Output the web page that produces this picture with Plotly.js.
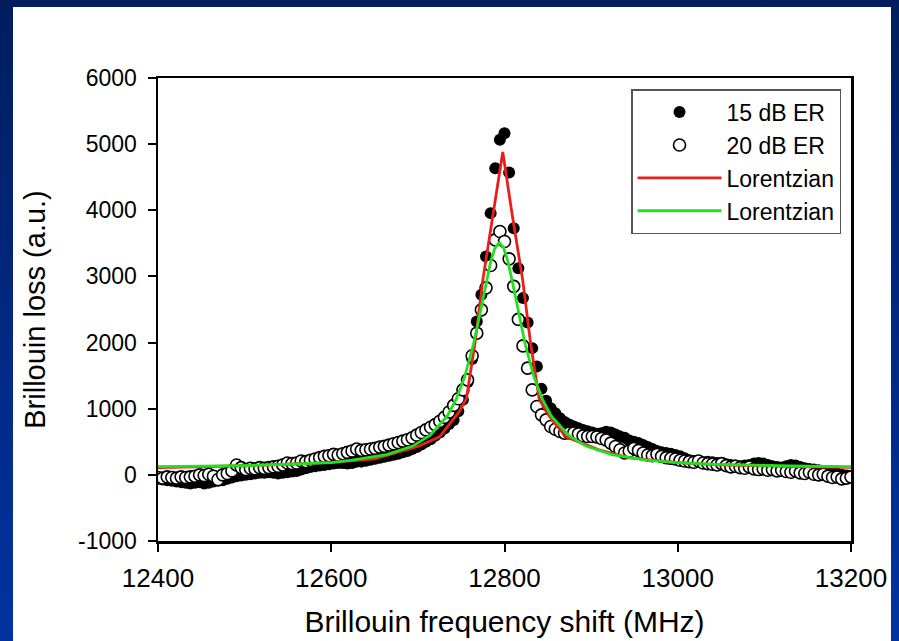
<!DOCTYPE html>
<html>
<head>
<meta charset="utf-8">
<script src="https://cdn.plot.ly/plotly-3.0.1.min.js"></script>
<style>
  html, body { margin: 0; padding: 0; width: 899px; height: 641px; overflow: hidden;
    background: linear-gradient(to bottom, #001e5e 0%, #002a88 60%, #0033a0 100%); }
  #chart { position: absolute; left: 13px; top: 7px; width: 878px; height: 634px; background: #fff; }
</style>
</head>
<body>
<div id="chart"></div>
<script>
// Sampling grid of the measured spectra (MHz)
const freqStart = 12400;
const freqStep = 5.3333;

// 15 dB ER measured Brillouin loss (a.u.)
const er15 = [
  -60, -70, -80, -90, -100, -110, -120, -130, -120, -110,
  -130, -120, -100, -90, -80, -60, -40, -20, -10, 0,
  10, 20, 30, 30, 40, 30, 20, 30, 40, 50,
  60, 80, 100, 120, 130, 140, 150, 160, 170, 180,
  180, 170, 180, 200, 200, 215, 230, 245, 260, 275,
  290, 305, 320, 340, 360, 390, 420, 460, 500, 540,
  590, 640, 700, 770, 830, 960, 1134, 1400, 1750, 2318,
  2722, 3301, 3957, 4637, 5065, 5166, 4571, 3730, 3125, 2672,
  2303, 1916, 1638, 1300, 1120, 1008, 933, 857, 800, 760,
  731, 706, 680, 660, 640, 620, 630, 650, 640, 610,
  580, 560, 520, 500, 480, 450, 420, 390, 360, 340,
  330, 320, 300, 280, 250, 220, 210, 200, 190, 200,
  190, 180, 170, 160, 150, 140, 130, 140, 150, 170,
  180, 170, 150, 130, 120, 110, 130, 150, 140, 120,
  100, 90, 80, 70, 60, 50, 40, 20, 0, -10,
  -20
];

// 20 dB ER measured Brillouin loss (a.u.)
const er20 = [
  -40, -50, -30, -40, -50, -30, -40, -30, -20, 0,
  -10, 10, -20, -70, 0, 20, 60, 150, 110, 80,
  100, 90, 110, 100, 110, 120, 130, 150, 180, 170,
  180, 210, 200, 220, 240, 260, 280, 290, 310, 300,
  320, 340, 360, 390, 370, 380, 390, 400, 420, 430,
  450, 470, 490, 510, 530, 560, 600, 640, 680, 720,
  760, 810, 870, 950, 1050, 1150, 1285, 1436, 1800, 2142,
  2495, 2827, 3165, 3553, 3679, 3528, 3266, 2850, 2350, 1950,
  1613, 1285, 1033, 907, 832, 731, 690, 655, 630, 632,
  635, 620, 590, 580, 580, 575, 550, 529, 480, 428,
  380, 330, 360, 400, 370, 330, 300, 290, 310, 280,
  260, 250, 240, 220, 210, 200, 190, 210, 180, 170,
  160, 150, 170, 140, 120, 130, 110, 100, 120, 90,
  80, 90, 70, 80, 60, 70, 50, 40, 60, 30,
  20, 40, 10, 0, 10, -20, -40, -30, -60, -50,
  -30
];

// Lorentzian fit to 15 dB ER (red)
const fitRedX = [12400, 12450, 12500, 12550, 12600, 12650, 12687, 12700, 12725, 12741,
  12748, 12756, 12766, 12775, 12787, 12798, 12809, 12821, 12830, 12840,
  12848, 12855, 12871, 12909, 12944, 13000, 13050, 13100, 13150, 13200];
const fitRedY = [108, 120, 138, 160, 188, 240, 378, 430, 575, 832,
  960, 1150, 2000, 2948, 3920, 4880, 3920, 2948, 2000, 1150,
  960, 832, 575, 378, 257, 185, 152, 132, 120, 112];

// Lorentzian fit to 20 dB ER (green)
const fitGreenX = [12400, 12450, 12500, 12544, 12560, 12600, 12624, 12664, 12694, 12714,
  12734, 12744, 12754, 12764, 12769, 12774, 12779, 12784, 12789, 12794,
  12799, 12804, 12809, 12814, 12819, 12824, 12834, 12844, 12854, 12874,
  12894, 12924, 12964, 13000, 13044, 13100, 13150, 13200];
const fitGreenY = [123, 130, 140, 158, 165, 185, 224, 306, 435, 596,
  892, 1135, 1481, 1967, 2266, 2594, 2925, 3223, 3433, 3510,
  3433, 3223, 2925, 2594, 2266, 1967, 1481, 1135, 892, 596,
  435, 306, 224, 185, 158, 140, 130, 123];

const seriesNames = ['15 dB ER', '20 dB ER', 'Lorentzian', 'Lorentzian'];
const xTicks = [12400, 12600, 12800, 13000, 13200];
const yTicks = [-1000, 0, 1000, 2000, 3000, 4000, 5000, 6000];

const FONT = 'Liberation Sans, Arial, Helvetica, sans-serif';

const traces = [
  { type: 'scatter', mode: 'markers', name: seriesNames[0],
    x0: freqStart, dx: freqStep, y: er15,
    marker: { symbol: 'circle', size: 12, color: '#000', line: { width: 0 } } },
  { type: 'scatter', mode: 'markers', name: seriesNames[1],
    x0: freqStart, dx: freqStep, y: er20,
    marker: { symbol: 'circle', size: 12, color: '#fff', line: { width: 1.6, color: '#000' } } },
  { type: 'scatter', mode: 'lines', name: seriesNames[2],
    x: fitRedX, y: fitRedY, line: { color: '#e8201c', width: 2.8 } },
  { type: 'scatter', mode: 'lines', name: seriesNames[3],
    x: fitGreenX, y: fitGreenY, line: { color: '#22e01e', width: 2.8 } }
];

const axisCommon = {
  showgrid: false, zeroline: false, showline: true, mirror: true,
  linecolor: '#000', linewidth: 2.5,
  ticks: 'outside', ticklen: 8, tickwidth: 2, tickcolor: '#000'
};

const layout = {
  width: 878, height: 634,
  margin: { l: 145, r: 40, t: 71, b: 100 },
  paper_bgcolor: '#ffffff', plot_bgcolor: '#ffffff',
  font: { family: FONT, color: '#000' },
  showlegend: true,
  legend: {
    x: 0.9856, xanchor: 'right', y: 0.976, yanchor: 'top',
    bgcolor: '#fff', bordercolor: '#555', borderwidth: 1.5,
    font: { family: FONT, size: 23, color: '#000' },
    itemwidth: 84
  },
  xaxis: Object.assign({}, axisCommon, {
    range: [12400, 13200], tickvals: xTicks, ticktext: xTicks.map(String),
    tickfont: { family: FONT, size: 26, color: '#000' }, ticklabelstandoff: 4,
    title: { text: 'Brillouin frequency shift (MHz)', font: { family: FONT, size: 30, color: '#000' }, standoff: 20 }
  }),
  yaxis: Object.assign({}, axisCommon, {
    range: [-1000, 6000], tickvals: yTicks, ticktext: yTicks.map(String),
    tickfont: { family: FONT, size: 23, color: '#000' }, ticklabelstandoff: 6,
    title: { text: 'Brillouin loss (a.u.)', font: { family: FONT, size: 29, color: '#000' }, standoff: 24 }
  })
};

Plotly.newPlot('chart', traces, layout, { displayModeBar: false, staticPlot: true });
</script>
</body>
</html>
